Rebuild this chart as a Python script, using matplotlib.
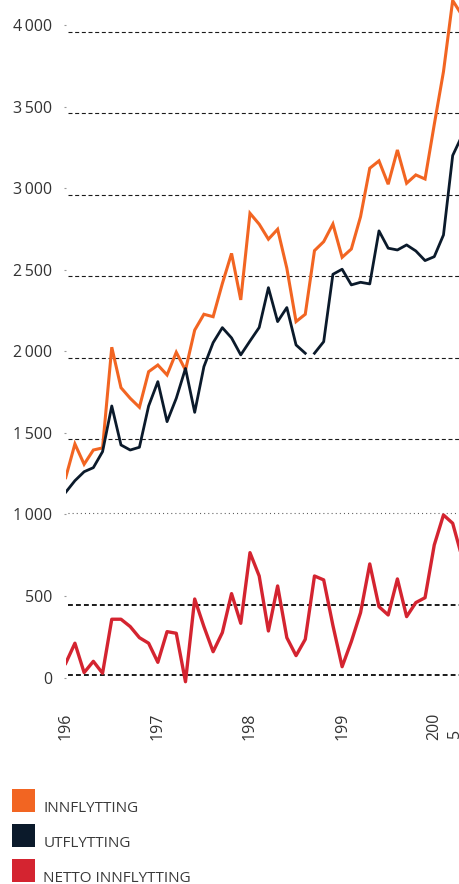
import numpy as np
import matplotlib
matplotlib.use('Agg')
from matplotlib import pyplot as plt
from matplotlib.patches import Rectangle

plt.rcParams['font.family'] = ['Open Sans', 'DejaVu Sans']

W, H = 460, 884

years = list(range(1965, 2009))

innflytting = [1226, 1432, 1308, 1395, 1408, 2025, 1777, 1712, 1657, 1875,
               1916, 1855, 1994, 1885, 2130, 2227, 2212, 2415, 2600, 2315,
               2846, 2779, 2687, 2748, 2509, 2182, 2227, 2617, 2672, 2780,
               2576, 2627, 2825, 3122, 3167, 3024, 3234, 3030, 3081, 3056,
               3390, 3714, 4150, 4060]

utflytting = [1136, 1207, 1262, 1287, 1385, 1665, 1426, 1395, 1412, 1665,
              1814, 1569, 1712, 1895, 1626, 1906, 2053, 2145, 2082, 1978,
              2063, 2146, 2390, 2182, 2268, 2039, 1988, 1988, 2059, 2472,
              2503, 2407, 2423, 2413, 2738, 2632, 2621, 2652, 2615, 2556,
              2580, 2713, 3200, 3320]

netto = [88, 211, 31, 100, 27, 358, 358, 313, 245, 211,
         94, 282, 272, -25, 482, 313, 159, 276, 515, 333,
         766, 623, 286, 562, 245, 135, 235, 623, 599, 320,
         67, 221, 398, 697, 435, 384, 605, 374, 460, 490,
         813, 997, 946, 740]

# utflytting series is broken between 1991 and 1992
ut_break = years.index(1992)

yticks = [0, 500, 1000, 1500, 2000, 2500, 3000, 3500, 4000]
xticks = [1965, 1975, 1985, 1995, 2005]
xlabels = ['196', '197', '198', '199', '200']

grid_top = [3955, 3459, 2956, 2462, 1958, 1463]
grid_dot = [1006]
grid_bottom = [446, 18]

legend_labels = ['INNFLYTTING', 'UTFLYTTING', 'NETTO INNFLYTTING']
colors = ['#f26522', '#0b1a2b', '#d42430']

fig = plt.figure(figsize=(W / 100, H / 100), dpi=100)
left_px, bottom_px = 65.5, 700
ax = fig.add_axes([left_px / W, 1 - bottom_px / H, (W - left_px) / W, bottom_px / H])

px_per_year = 9.214
ax.set_xlim(1965 - 0.2 / px_per_year, 1965 + (W - 65.7) / px_per_year)
ax.set_ylim(-137, 4153)

gx = 2.2 / (W - left_px)
for g in grid_top:
    ax.axhline(g, xmin=gx, color='#1a1a1a', lw=0.8, ls=(0, (3.6, 2.4)), zorder=1)
for g in grid_dot:
    ax.axhline(g, xmin=gx, color='#555555', lw=0.8, ls=(0, (0.9, 2.8)), zorder=1)
for g in grid_bottom:
    ax.axhline(g, xmin=gx, color='#1a1a1a', lw=1.4, ls=(0, (2.5, 1.6)), zorder=1)

ax.plot(years, innflytting, color=colors[0], lw=2.2, zorder=3, solid_joinstyle='miter')
ax.plot(years[:ut_break], utflytting[:ut_break], color=colors[1], lw=2.0, zorder=4)
ax.plot(years[ut_break:], utflytting[ut_break:], color=colors[1], lw=2.0, zorder=4)
ax.plot(years, netto, color=colors[2], lw=2.4, zorder=3)

for s in ax.spines.values():
    s.set_visible(False)

ax.set_yticks(yticks)
ax.set_yticklabels([f'{v:,}'.replace(',', '\u2009') for v in yticks])
ax.tick_params(axis='y', length=1.5, width=0.8, color='#999999', pad=7.8,
               labelsize=11.5, labelcolor='#333333')

ax.set_xticks(xticks)
ax.set_xticklabels(xlabels, rotation=90)
ax.tick_params(axis='x', length=0, pad=9.4, labelsize=11.5, labelcolor='#333333')

# wrapped last digit of the final year label (cut by the edge, as in the source)
ax.annotate('5', xy=(xticks[-1], 0), xycoords=('data', 'axes fraction'),
            xytext=(14.9, -27.4), textcoords='offset points', rotation=90,
            ha='center', va='bottom', fontsize=11.5, color='#333333',
            annotation_clip=False)

# legend
sq = 23
for i, (lab, c) in enumerate(zip(legend_labels, colors)):
    y_bot = 811.7 + i * 35
    fig.add_artist(Rectangle((11.7 / W, 1 - y_bot / H), sq / W, sq / H,
                             transform=fig.transFigure, color=c, lw=0))
    fig.text(43.3 / W, 1 - y_bot / H, lab, ha='left', va='baseline',
             fontsize=11, color='#3a3a3a')

fig.savefig('out.png', dpi=100)
